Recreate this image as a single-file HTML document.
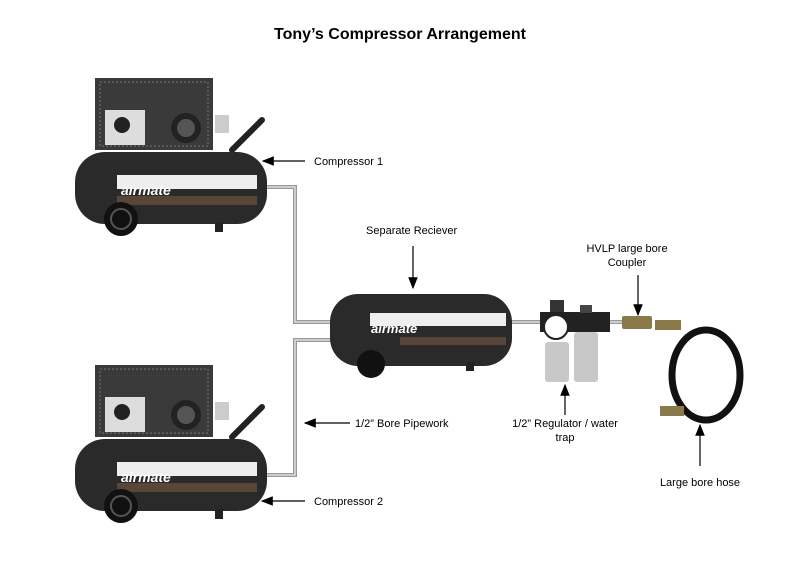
<!DOCTYPE html>
<html><head><style>
body{margin:0;background:#fff}
svg{display:block}
text{font-family:"Liberation Sans",sans-serif;font-size:11px;fill:#000}
</style></head><body>
<svg width="800" height="566" viewBox="0 0 800 566">
<defs>
<marker id="ah" markerWidth="10" markerHeight="8" refX="9" refY="4" orient="auto"><path d="M0,0 L10,4 L0,8 z" fill="#000"/></marker>
<g id="comp">
 <rect x="95" y="78" width="118" height="72" fill="#3a3a3a"/>
 <rect x="100" y="82" width="108" height="64" fill="none" stroke="#777" stroke-width="1" stroke-dasharray="2 2"/>
 <rect x="105" y="110" width="40" height="35" fill="#ddd"/>
 <circle cx="122" cy="125" r="8" fill="#222"/>
 <circle cx="186" cy="128" r="15" fill="#222"/>
 <circle cx="186" cy="128" r="9" fill="#555"/>
 <rect x="215" y="115" width="14" height="18" fill="#ccc"/>
 <path d="M232,150 L262,120" stroke="#222" stroke-width="6" stroke-linecap="round"/>
 <rect x="75" y="152" width="192" height="72" rx="30" fill="#2a2a2a"/>
 <rect x="117" y="175" width="140" height="14" fill="#eee"/>
 <rect x="117" y="196" width="140" height="9" fill="#5a4638"/>
 <text x="121" y="195" style="font-size:14px;font-weight:bold;fill:#fff;font-style:italic">airmate</text>
 <circle cx="121" cy="219" r="17" fill="#111"/>
 <circle cx="121" cy="219" r="10" fill="none" stroke="#555" stroke-width="2"/>
 <rect x="215" y="222" width="8" height="10" fill="#222"/>
</g>
</defs>
<text x="400" y="39" text-anchor="middle" style="font-size:16px;font-weight:bold">Tony’s Compressor Arrangement</text>
<g fill="none" stroke="#999" stroke-width="4">
 <path d="M265,187 H295 V322 H332"/>
 <path d="M332,340 H295 V475 H265"/>
 <path d="M505,322 H622"/>
</g>
<g fill="none" stroke="#ddd" stroke-width="1.5">
 <path d="M265,187 H295 V322 H332"/>
 <path d="M332,340 H295 V475 H265"/>
 <path d="M505,322 H622"/>
</g>
<use href="#comp"/>
<use href="#comp" transform="translate(0,287)"/>
<rect x="330" y="294" width="182" height="72" rx="28" fill="#2a2a2a"/>
<rect x="370" y="313" width="136" height="13" fill="#eee"/>
<rect x="400" y="337" width="106" height="8" fill="#5a4638"/>
<text x="371" y="333" style="font-size:13px;font-weight:bold;fill:#fff;font-style:italic">airmate</text>
<circle cx="371" cy="364" r="14" fill="#111"/>
<rect x="466" y="362" width="8" height="9" fill="#222"/>
<rect x="540" y="312" width="70" height="20" fill="#222"/>
<circle cx="556" cy="327" r="12" fill="#fff" stroke="#222" stroke-width="2"/>
<rect x="545" y="342" width="24" height="40" rx="3" fill="#c8c8c8"/>
<rect x="574" y="332" width="24" height="50" rx="3" fill="#c8c8c8"/>
<rect x="550" y="300" width="14" height="12" fill="#333"/>
<rect x="580" y="305" width="12" height="8" fill="#444"/>
<rect x="622" y="316" width="30" height="13" rx="2" fill="#8a7a4a"/>
<ellipse cx="706" cy="375" rx="34" ry="45" fill="none" stroke="#111" stroke-width="7"/>
<rect x="655" y="320" width="26" height="10" fill="#8a7a4a"/>
<rect x="660" y="406" width="24" height="10" fill="#8a7a4a"/>
<g stroke="#000" stroke-width="1.2" marker-end="url(#ah)">
 <line x1="305" y1="161" x2="263" y2="161"/>
 <line x1="413" y1="246" x2="413" y2="288"/>
 <line x1="350" y1="423" x2="305" y2="423"/>
 <line x1="305" y1="501" x2="262" y2="501"/>
 <line x1="565" y1="415" x2="565" y2="385"/>
 <line x1="638" y1="275" x2="638" y2="315"/>
 <line x1="700" y1="466" x2="700" y2="425"/>
</g>
<text x="314" y="165">Compressor 1</text>
<text x="366" y="234">Separate Reciever</text>
<text x="355" y="427">1/2” Bore Pipework</text>
<text x="314" y="505">Compressor 2</text>
<text x="565" y="427" text-anchor="middle">1/2” Regulator / water</text>
<text x="565" y="441" text-anchor="middle">trap</text>
<text x="627" y="252" text-anchor="middle">HVLP large bore</text>
<text x="627" y="266" text-anchor="middle">Coupler</text>
<text x="700" y="486" text-anchor="middle">Large bore hose</text>
</svg>
</body></html>
